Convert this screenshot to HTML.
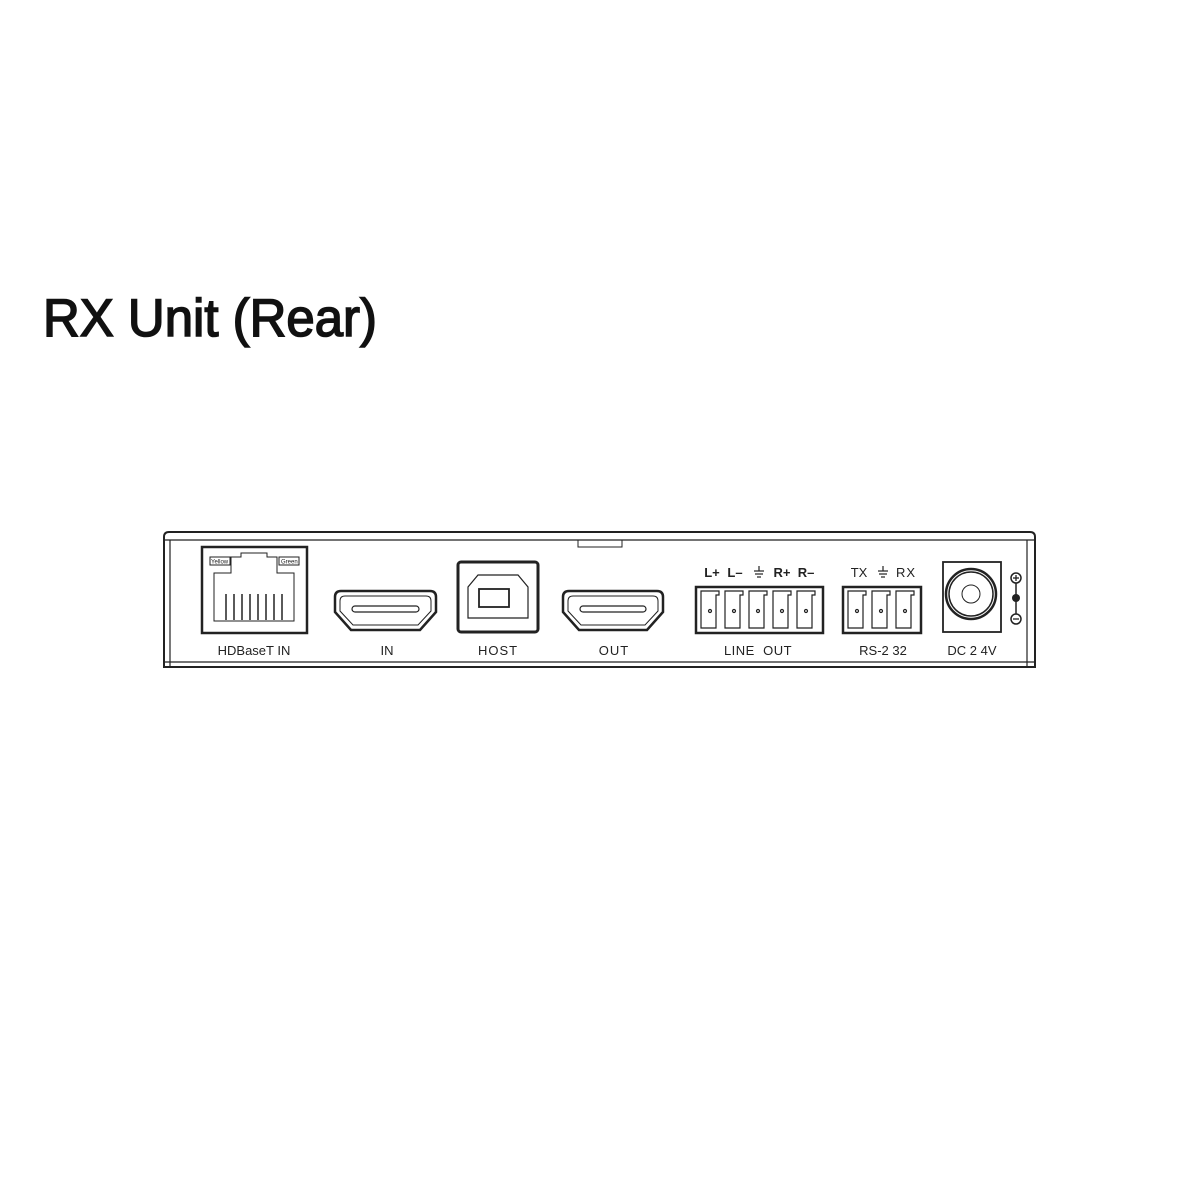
<!DOCTYPE html>
<html><head><meta charset="utf-8"><style>html,body{margin:0;padding:0;background:#fff}svg{display:block}</style></head>
<body>
<svg width="1200" height="1200" viewBox="0 0 1200 1200" xmlns="http://www.w3.org/2000/svg" font-family="Liberation Sans, sans-serif">
<text x="43" y="336" font-size="53" stroke="#111" stroke-width="1.6" textLength="334" lengthAdjust="spacingAndGlyphs" fill="#111">RX Unit (Rear)</text>
<g fill="none" stroke="#222" stroke-width="1.5">
<path d="M164 667 V537 Q164 532 169 532 H1030 Q1035 532 1035 537 V667 Z" stroke-width="2"/>
<line x1="164" y1="540" x2="1035" y2="540" stroke-width="1.2"/>
<line x1="164" y1="662" x2="1035" y2="662" stroke-width="1.2"/>
<line x1="170" y1="540" x2="170" y2="667" stroke-width="1.2"/>
<line x1="1027" y1="540" x2="1027" y2="667" stroke-width="1.2"/>
<rect x="578" y="540" width="44" height="7" stroke-width="1"/>
<rect x="202" y="547" width="105" height="86" stroke-width="2.5"/>
<path d="M214 621 V573 H231 V557 H241 V553 H267 V557 H277 V573 H294 V621 Z" stroke-width="1"/>
<rect x="210" y="557" width="20" height="8" stroke-width="1"/>
<rect x="279" y="557" width="20" height="8" stroke-width="1"/>
<g stroke-width="1.5"><line x1="226" y1="594" x2="226" y2="620"/><line x1="234" y1="594" x2="234" y2="620"/><line x1="242" y1="594" x2="242" y2="620"/><line x1="250" y1="594" x2="250" y2="620"/><line x1="258" y1="594" x2="258" y2="620"/><line x1="266" y1="594" x2="266" y2="620"/><line x1="274" y1="594" x2="274" y2="620"/><line x1="282" y1="594" x2="282" y2="620"/></g>
<path d="M341 591 H430 Q436 591 436 597 V612 L420 630 H351 L335 612 V597 Q335 591 341 591 Z" stroke-width="2.5"/>
<path d="M345 596 H426 Q431 596 431 601 V611 L418 625 H353 L340 611 V601 Q340 596 345 596 Z" stroke-width="1"/>
<rect x="352" y="606" width="67" height="6" rx="3" stroke-width="1.2"/>
<rect x="458" y="562" width="80" height="70" rx="3" stroke-width="3"/>
<path d="M478 575 H518 L528 587 V618 H468 V587 Z" stroke-width="1.2"/>
<rect x="479" y="589" width="30" height="18" stroke-width="1.8"/>
<path d="M569 591 H657 Q663 591 663 597 V612 L647 630 H579 L563 612 V597 Q563 591 569 591 Z" stroke-width="2.5"/>
<path d="M573 596 H653 Q658 596 658 601 V611 L645 625 H581 L568 611 V601 Q568 596 573 596 Z" stroke-width="1"/>
<rect x="580" y="606" width="66" height="6" rx="3" stroke-width="1.2"/>
<rect x="696" y="587" width="127" height="46" stroke-width="2.5"/>
<g stroke-width="1.2">
<path d="M701 591 H719 V595 H716 V628 H701 Z"/><path d="M725 591 H743 V595 H740 V628 H725 Z"/><path d="M749 591 H767 V595 H764 V628 H749 Z"/><path d="M773 591 H791 V595 H788 V628 H773 Z"/><path d="M797 591 H815 V595 H812 V628 H797 Z"/>
<circle cx="710" cy="611" r="1.5"/><circle cx="734" cy="611" r="1.5"/><circle cx="758" cy="611" r="1.5"/><circle cx="782" cy="611" r="1.5"/><circle cx="806" cy="611" r="1.5"/>
</g>
<rect x="843" y="587" width="78" height="46" stroke-width="2.5"/>
<g stroke-width="1.2">
<path d="M848 591 H866 V595 H863 V628 H848 Z"/><path d="M872 591 H890 V595 H887 V628 H872 Z"/><path d="M896 591 H914 V595 H911 V628 H896 Z"/>
<circle cx="857" cy="611" r="1.5"/><circle cx="881" cy="611" r="1.5"/><circle cx="905" cy="611" r="1.5"/>
</g>
<rect x="943" y="562" width="58" height="70" stroke-width="1.8"/>
<circle cx="971" cy="594" r="25" stroke-width="2.5"/>
<circle cx="971" cy="594" r="22" stroke-width="1.5"/>
<circle cx="971" cy="594" r="9" stroke-width="1"/>
<circle cx="1016" cy="578" r="5" stroke-width="1.5"/>
<circle cx="1016" cy="619" r="5" stroke-width="1.5"/>
<line x1="1016" y1="583" x2="1016" y2="614" stroke-width="1.5"/>
<line x1="1013" y1="578" x2="1019" y2="578" stroke-width="1.3"/><line x1="1016" y1="575" x2="1016" y2="581" stroke-width="1.3"/>
<line x1="1013" y1="619" x2="1019" y2="619" stroke-width="1.3"/>
</g>
<circle cx="1016" cy="598" r="4" fill="#222"/>
<g font-size="6" fill="#222"><text x="211" y="563.5">Yellow</text><text x="281" y="563.5">Green</text></g>
<g font-size="13" fill="#222" text-anchor="middle">
<text x="254" y="655">HDBaseT IN</text>
<text x="387" y="655">IN</text>
<text x="498" y="655" letter-spacing="1">HOST</text>
<text x="614" y="655" letter-spacing="1">OUT</text>
<text x="758" y="655" letter-spacing="0.5" xml:space="preserve">LINE  OUT</text>
<text x="883" y="655" xml:space="preserve">RS-2 32</text>
<text x="972" y="655" xml:space="preserve">DC 2 4V</text>
</g>
<g font-size="13" font-weight="bold" fill="#222" text-anchor="middle">
<text x="712" y="577">L+</text><text x="735" y="577">L–</text><text x="782" y="577">R+</text><text x="806" y="577">R–</text>
</g>
<g font-size="13" fill="#222" text-anchor="middle"><text x="859" y="577">TX</text><text x="906" y="577" letter-spacing="1">RX</text></g>
<g stroke="#222" stroke-width="1.2">
<line x1="759" y1="566" x2="759" y2="571"/><line x1="754" y1="571" x2="764" y2="571"/><line x1="755" y1="574" x2="763" y2="574"/><line x1="757" y1="577" x2="761" y2="577"/>
<line x1="883" y1="566" x2="883" y2="571"/><line x1="878" y1="571" x2="888" y2="571"/><line x1="879" y1="574" x2="887" y2="574"/><line x1="881" y1="577" x2="885" y2="577"/>
</g>
</svg>
</body></html>
